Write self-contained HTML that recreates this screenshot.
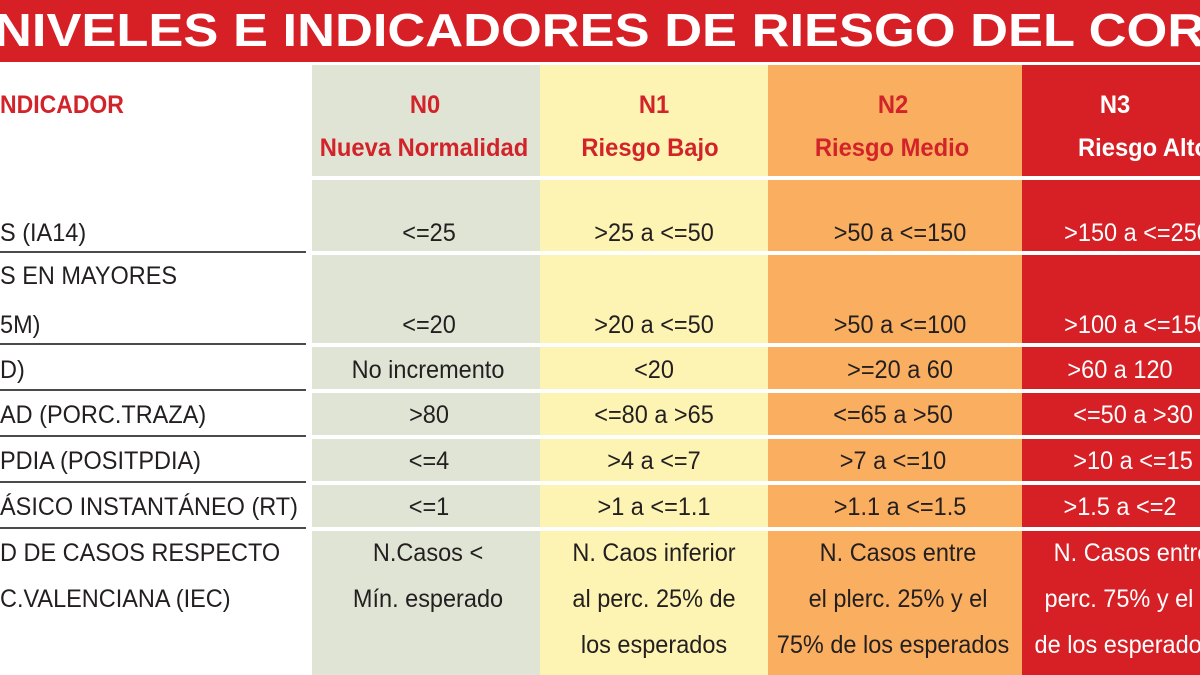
<!DOCTYPE html>
<html><head><meta charset="utf-8"><style>
html,body{margin:0;padding:0;background:#fff;width:1200px;height:675px;overflow:hidden}
svg text{font-family:"Liberation Sans",sans-serif}
.t{font-size:25px;fill:#231f20}
.w{fill:#fff}
.h{font-size:25px;font-weight:bold;fill:#d2232a}
</style></head><body>
<svg width="1200" height="675" xmlns="http://www.w3.org/2000/svg">
<rect x="0" y="0" width="1200" height="675" fill="#fff"/>
<rect x="0" y="0" width="1200" height="62" fill="#d71f26"/>
<text x="-6" y="46" font-size="46" font-weight="bold" fill="#fff" textLength="1252" lengthAdjust="spacingAndGlyphs">NIVELES E INDICADORES DE RIESGO DEL CORO</text>
<rect x="312" y="65" width="228" height="610" fill="#dfe4d4"/>
<rect x="540" y="65" width="228" height="610" fill="#fdf3b2"/>
<rect x="768" y="65" width="254" height="610" fill="#f9ae60"/>
<rect x="1022" y="65" width="178" height="610" fill="#d71f26"/>
<g fill="#fff">
<rect x="312" y="176" width="888" height="4"/>
<rect x="312" y="251" width="888" height="4"/>
<rect x="312" y="343" width="888" height="4"/>
<rect x="312" y="389" width="888" height="4"/>
<rect x="312" y="435" width="888" height="4"/>
<rect x="312" y="481" width="888" height="4"/>
<rect x="312" y="527" width="888" height="4"/>
</g>
<g fill="#4a4a4a">
<rect x="0" y="251" width="306" height="2"/>
<rect x="0" y="343" width="306" height="2"/>
<rect x="0" y="389" width="306" height="2"/>
<rect x="0" y="435" width="306" height="2"/>
<rect x="0" y="481" width="306" height="2"/>
<rect x="0" y="527" width="306" height="2"/>
</g>
<g class="h">
<text class="h" transform="translate(0,113) scale(.92,1)">NDICADOR</text>
<text class="h" text-anchor="middle" transform="translate(425,113) scale(.95,1)">N0</text>
<text class="h" text-anchor="middle" transform="translate(424,156) scale(.95,1)">Nueva Normalidad</text>
<text class="h" text-anchor="middle" transform="translate(654,113) scale(.95,1)">N1</text>
<text class="h" text-anchor="middle" transform="translate(650,156) scale(.95,1)">Riesgo Bajo</text>
<text class="h" text-anchor="middle" transform="translate(893,113) scale(.95,1)">N2</text>
<text class="h" text-anchor="middle" transform="translate(892,156) scale(.95,1)">Riesgo Medio</text>
<text class="h" style="fill:#fff" text-anchor="middle" transform="translate(1115,113) scale(.95,1)">N3</text>
<text class="h" style="fill:#fff" text-anchor="start" transform="translate(1078,156) scale(.95,1)">Riesgo Alto</text>
</g>
<text class="t" transform="translate(0,241) scale(.94,1)">S (IA14)</text>
<text class="t" transform="translate(0,284) scale(.94,1)">S EN MAYORES</text>
<text class="t" transform="translate(0,333) scale(.94,1)">5M)</text>
<text class="t" transform="translate(0,378) scale(.94,1)">D)</text>
<text class="t" transform="translate(0,423) scale(.94,1)">AD (PORC.TRAZA)</text>
<text class="t" transform="translate(0,469) scale(.94,1)"> PDIA (POSITPDIA)</text>
<text class="t" transform="translate(0,515) scale(.94,1)">ÁSICO INSTANTÁNEO (RT)</text>
<text class="t" transform="translate(0,561) scale(.94,1)">D DE CASOS RESPECTO</text>
<text class="t" transform="translate(0,607) scale(.94,1)">C.VALENCIANA (IEC)</text>
<g text-anchor="middle">
<text class="t" transform="translate(429,241) scale(.94,1)">&lt;=25</text>
<text class="t" transform="translate(429,333) scale(.94,1)">&lt;=20</text>
<text class="t" transform="translate(428,378) scale(.94,1)">No incremento</text>
<text class="t" transform="translate(429,423) scale(.94,1)">&gt;80</text>
<text class="t" transform="translate(429,469) scale(.94,1)">&lt;=4</text>
<text class="t" transform="translate(429,515) scale(.94,1)">&lt;=1</text>
<text class="t" transform="translate(428,561) scale(.94,1)">N.Casos &lt;</text>
<text class="t" transform="translate(428,607) scale(.94,1)">Mín. esperado</text>
<text class="t" transform="translate(654,241) scale(.94,1)">&gt;25 a &lt;=50</text>
<text class="t" transform="translate(654,333) scale(.94,1)">&gt;20 a &lt;=50</text>
<text class="t" transform="translate(654,378) scale(.94,1)">&lt;20</text>
<text class="t" transform="translate(654,423) scale(.94,1)">&lt;=80 a &gt;65</text>
<text class="t" transform="translate(654,469) scale(.94,1)">&gt;4 a &lt;=7</text>
<text class="t" transform="translate(654,515) scale(.94,1)">&gt;1 a &lt;=1.1</text>
<text class="t" transform="translate(654,561) scale(.94,1)">N. Caos inferior</text>
<text class="t" transform="translate(654,607) scale(.94,1)">al perc. 25% de</text>
<text class="t" transform="translate(654,653) scale(.94,1)">los esperados</text>
<text class="t" transform="translate(900,241) scale(.94,1)">&gt;50 a &lt;=150</text>
<text class="t" transform="translate(900,333) scale(.94,1)">&gt;50 a &lt;=100</text>
<text class="t" transform="translate(900,378) scale(.94,1)">&gt;=20 a 60</text>
<text class="t" transform="translate(893,423) scale(.94,1)">&lt;=65 a &gt;50</text>
<text class="t" transform="translate(893,469) scale(.94,1)">&gt;7 a &lt;=10</text>
<text class="t" transform="translate(900,515) scale(.94,1)">&gt;1.1 a &lt;=1.5</text>
<text class="t" transform="translate(898,561) scale(.94,1)">N. Casos entre</text>
<text class="t" transform="translate(898,607) scale(.94,1)">el plerc. 25% y el</text>
<text class="t" transform="translate(893,653) scale(.94,1)">75% de los esperados</text>
<text class="t w" transform="translate(1137,241) scale(.94,1)">&gt;150 a &lt;=250</text>
<text class="t w" transform="translate(1137,333) scale(.94,1)">&gt;100 a &lt;=150</text>
<text class="t w" transform="translate(1120,378) scale(.94,1)">&gt;60 a 120</text>
<text class="t w" transform="translate(1133,423) scale(.94,1)">&lt;=50 a &gt;30</text>
<text class="t w" transform="translate(1133,469) scale(.94,1)">&gt;10 a &lt;=15</text>
<text class="t w" transform="translate(1120,515) scale(.94,1)">&gt;1.5 a &lt;=2</text>
<text class="t w" transform="translate(1132,561) scale(.94,1)">N. Casos entre</text>
<text class="t w" transform="translate(1132,607) scale(.94,1)">perc. 75% y el m</text>
<text class="t w" transform="translate(1124,653) scale(.94,1)">de los esperados</text>
</g>
</svg>
</body></html>
